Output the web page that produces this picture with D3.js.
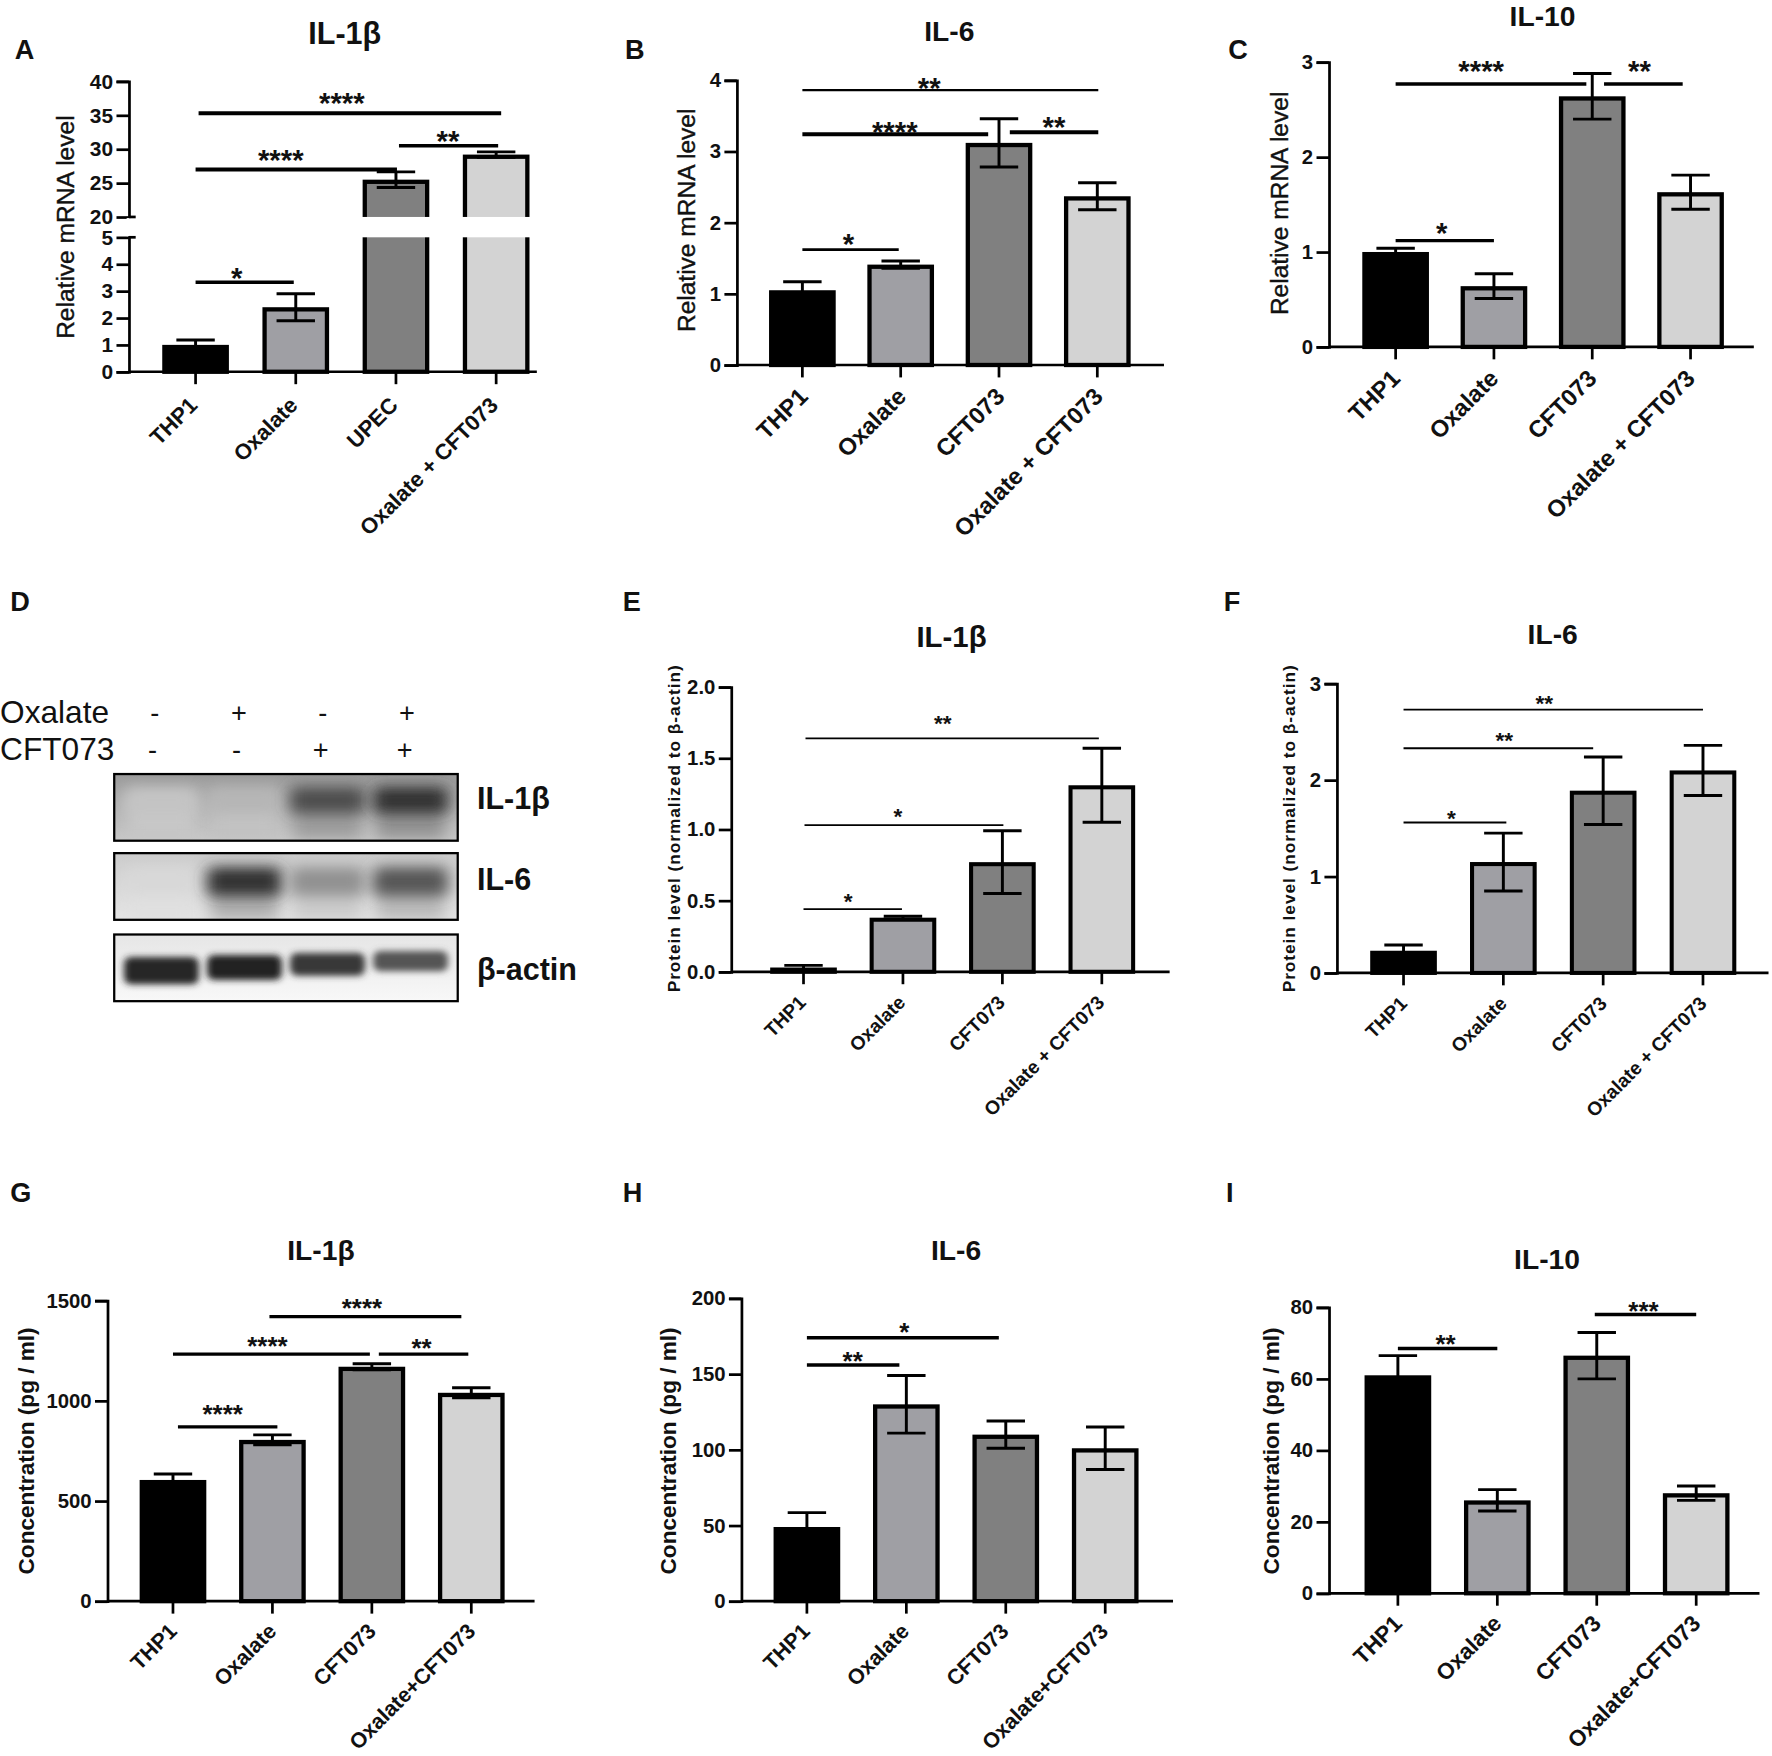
<!DOCTYPE html>
<html>
<head>
<meta charset="utf-8">
<script src="https://cdnjs.cloudflare.com/ajax/libs/d3/7.8.5/d3.min.js"></script>
<style>
body { margin: 0; background: #fff; }
svg { display: block; }
text { font-family: "Liberation Sans", Arial, sans-serif; fill: #111; }
</style>
</head>
<body>
<div id="chart"></div>
<script>
// groups
var catsUpec = ["THP1", "Oxalate", "UPEC", "Oxalate + CFT073"];
var catsPlus = ["THP1", "Oxalate", "CFT073", "Oxalate + CFT073"];
var catsTight = ["THP1", "Oxalate", "CFT073", "Oxalate+CFT073"];
var barColors = ["#000000", "#9f9fa4", "#808080", "#d3d3d3"];

// means and error bars
var aVal = [1.0, 2.4, 25.5, 29.2], aErr = [0.18, 0.5, 1.15, 0.4];
var bVal = [1.05, 1.41, 3.12, 2.37], bErr = [0.12, 0.05, 0.34, 0.19];
var cVal = [1.0, 0.64, 2.64, 1.63], cErr = [0.04, 0.13, 0.24, 0.18];
var eVal = [0.03, 0.38, 0.77, 1.31], eErr = [0.015, 0.01, 0.22, 0.26];
var fVal = [0.23, 1.15, 1.89, 2.1], fErr = [0.06, 0.3, 0.35, 0.26];
var gVal = [605, 805, 1170, 1040], gErr = [30, 25, 15, 25];
var hVal = [49, 130, 110, 101], hErr = [9.5, 19, 9, 14];
var iVal = [61, 26, 66.5, 28], iErr = [5.5, 3, 6.5, 2];

// tick labels
var aTicks = [0, 1, 2, 3, 4, 5, 20, 25, 30, 35, 40];
var bTicks = [0, 1, 2, 3, 4];
var cTicks = [0, 1, 2, 3];
var eTicks = [0, 0.5, 1, 1.5, 2];
var fTicks = [0, 1, 2, 3];
var gTicks = [0, 500, 1000, 1500];
var hTicks = [0, 50, 100, 150, 200];
var iTicks = [0, 20, 40, 60, 80];

// significance: label, from group, to group, level in axis units, group the label sits over
var aSig = [["****", 0.03, 3.05, 35.3, 1.46], ["****", 0, 2.01, 27, 0.85], ["**", 2.03, 3.02, 30.5, 2.52], ["*", 0, 0.98, 3.33, 0.41]];
var bSig = [["**", 0, 3.01, 3.86, 1.29], ["****", 0, 1.89, 3.24, 0.94], ["**", 2.11, 3.01, 3.27, 2.56], ["*", 0, 0.98, 1.62, 0.47]];
var cSig = [["****", 0, 1.94, 2.77, 0.87], ["**", 2.12, 2.92, 2.77, 2.48], ["*", 0, 1.0, 1.12, 0.47]];
var eSig = [["**", 0.02, 2.97, 1.64, 1.4], ["*", 0.01, 2.01, 1.03, 0.95], ["*", 0, 0.99, 0.44, 0.45]];
var fSig = [["**", 0, 3.0, 2.73, 1.41], ["**", 0, 1.9, 2.33, 1.01], ["*", 0, 1.03, 1.56, 0.48]];
var gSig = [["****", 0.97, 2.9, 1420, 1.9], ["****", 0, 1.98, 1233, 0.95], ["**", 2.07, 2.97, 1233, 2.5], ["****", 0.05, 1.05, 870, 0.5]];
var hSig = [["*", 0, 1.93, 174, 0.98], ["**", 0, 0.93, 156, 0.46]];
var iSig = [["**", 0, 1, 68.5, 0.48], ["***", 1.98, 3, 78, 2.47]];

// western blot
var blotNames = ["IL-1β", "IL-6", "β-actin"];
var laneNames = ["1", "2", "3", "4"];
var il1bBands = [0.02, 0.1, 0.68, 0.84];
var il6Bands = [0.06, 0.86, 0.4, 0.68];
var actinBands = [0.92, 0.95, 0.85, 0.72];
var oxalateSigns = ["-", "+", "-", "+"];
var cftSigns = ["-", "-", "+", "+"];

var svg = d3.select("#chart").append("svg")
    .attr("width", 1772)
    .attr("height", 1756)
    .attr("viewBox", "0 0 1568 1554");

var panels = [
    {letter: "A", lx: 13, ly: 52, title: "IL-1β", tx: 305, ty: 39, tf: 27, cats: catsUpec, val: aVal, err: aErr, ticks: aTicks, sig: aSig,
        yDomain: [0, 5, 20, 40], yRange: [329, 210, 192, 72], axisX: 114, endX: 475, c0: 173, c3: 439, gap: [5, 20],
        label: "Relative mRNA level", labelX: 58, labelY: 201, labelSize: 21.7, labelWeight: "normal", labelStroke: 0.35, tick: 18.5, cat: 19.5, catDx: -2, catDy: 26,
        sw: 3.8, sigW: [3.5, 3.5, 3, 3], star: 26, starUp: [14.5, 14.5, 10, 9]},
    {letter: "B", lx: 553, ly: 52, title: "IL-6", tx: 840, ty: 36, tf: 25, cats: catsPlus, val: bVal, err: bErr, ticks: bTicks, sig: bSig,
        yDomain: [0, 4], yRange: [323, 71], axisX: 652, endX: 1030, c0: 710, c3: 971,
        label: "Relative mRNA level", labelX: 607, labelY: 195, labelSize: 21.7, labelWeight: "normal", labelStroke: 0.35, tick: 18, cat: 21, catDx: 1, catDy: 24,
        sw: 3.8, sigW: [2, 3.5, 3.5, 2.5], star: 26, starUp: [7.5, 8, 10, 10.5]},
    {letter: "C", lx: 1087, ly: 52, title: "IL-10", tx: 1365, ty: 23, tf: 25, cats: catsPlus, val: cVal, err: cErr, ticks: cTicks, sig: cSig,
        yDomain: [0, 3], yRange: [307, 55], axisX: 1176, endX: 1552, c0: 1235, c3: 1496,
        label: "Relative mRNA level", labelX: 1132, labelY: 180, labelSize: 21.7, labelWeight: "normal", labelStroke: 0.35, tick: 18, cat: 21, catDx: 0, catDy: 24,
        sw: 3.8, sigW: [3, 3, 3], star: 26, starUp: [17, 17, 12]},
    {letter: "E", lx: 551, ly: 541, title: "IL-1β", tx: 842, ty: 573, tf: 26, cats: catsPlus, val: eVal, err: eErr, ticks: eTicks, sig: eSig, fmt: d3.format(".1f"),
        yDomain: [0, 2], yRange: [860, 608], axisX: 647, endX: 1035, c0: 711, c3: 975,
        label: "Protein level (normalized to β-actin)", labelX: 596, labelY: 733, labelSize: 15.3, labelSpacing: 0.85, labelWeight: "bold", tick: 18, cat: 17, catDx: -1, catDy: 24,
        sw: 3.6, sigW: [1.6, 1.6, 1.6], star: 20, starUp: [17.5, 12.5, 11]},
    {letter: "F", lx: 1083, ly: 541, title: "IL-6", tx: 1374, ty: 570, tf: 25, cats: catsPlus, val: fVal, err: fErr, ticks: fTicks, sig: fSig,
        yDomain: [0, 3], yRange: [861, 605], axisX: 1183, endX: 1565, c0: 1242, c3: 1507,
        label: "Protein level (normalized to β-actin)", labelX: 1141, labelY: 733, labelSize: 15.3, labelSpacing: 0.85, labelWeight: "bold", tick: 18, cat: 17, catDx: 0, catDy: 24,
        sw: 3.6, sigW: [1.6, 1.6, 1.6], star: 20, starUp: [10, 11, 8]},
    {letter: "G", lx: 9, ly: 1064, title: "IL-1β", tx: 284, ty: 1115, tf: 25, cats: catsTight, val: gVal, err: gErr, ticks: gTicks, sig: gSig,
        yDomain: [0, 1500], yRange: [1417, 1151], axisX: 95, endX: 473, c0: 153, c3: 417,
        label: "Concentration (pg / ml)", labelX: 23, labelY: 1284, labelSize: 20, labelWeight: "bold", tick: 18, cat: 19, catDx: 0, catDy: 23,
        sw: 3.8, sigW: [3, 3, 3, 3], star: 23, starUp: [13, 12, 10, 16]},
    {letter: "H", lx: 551, ly: 1064, title: "IL-6", tx: 846, ty: 1115, tf: 25, cats: catsTight, val: hVal, err: hErr, ticks: hTicks, sig: hSig,
        yDomain: [0, 200], yRange: [1417, 1149], axisX: 656, endX: 1038, c0: 714, c3: 978,
        label: "Concentration (pg / ml)", labelX: 591, labelY: 1284, labelSize: 20, labelWeight: "bold", tick: 18, cat: 19, catDx: -1, catDy: 23,
        sw: 3.8, sigW: [3, 3], star: 23, starUp: [10, 8]},
    {letter: "I", lx: 1085, ly: 1064, title: "IL-10", tx: 1369, ty: 1123, tf: 25, cats: catsTight, val: iVal, err: iErr, ticks: iTicks, sig: iSig,
        yDomain: [0, 80], yRange: [1410, 1157], axisX: 1176, endX: 1557, c0: 1237, c3: 1501,
        label: "Concentration (pg / ml)", labelX: 1125, labelY: 1284, labelSize: 20, labelWeight: "bold", tick: 18, cat: 20, catDx: 0, catDy: 23,
        sw: 3.8, sigW: [3, 3], star: 23, starUp: [9, 8]}
];

var fontStack = '"Liberation Sans", Arial, sans-serif';

function drawPanel(p) {
    var g = svg.append("g").attr("class", "panel-" + p.letter);
    var step = (p.c3 - p.c0) / 3;
    var barW = 59;
    var x = d3.scaleBand()
        .domain(p.cats)
        .range([p.c0 - step / 2, p.c3 + step / 2])
        .paddingInner(1 - barW / step)
        .paddingOuter((1 - barW / step) / 2);
    var groupX = d3.scaleLinear().domain([0, 3]).range([p.c0, p.c3]);
    var y = d3.scaleLinear().domain(p.yDomain).range(p.yRange);
    var base = y(0);

    g.append("text").attr("x", p.lx).attr("y", p.ly)
        .style("font-size", "24px").style("font-weight", "bold").text(p.letter);
    g.append("text").attr("x", p.tx).attr("y", p.ty).attr("text-anchor", "middle")
        .style("font-size", p.tf + "px").style("font-weight", "bold").text(p.title);

    // the stroke sits inside the bar, so the outer edge is on the value
    g.selectAll(".bar").data(p.val).enter().append("rect")
        .attr("class", "bar")
        .attr("x", function (d, i) { return x(p.cats[i]) + p.sw / 2; })
        .attr("width", x.bandwidth() - p.sw)
        .attr("y", function (d) { return y(d) + p.sw / 2; })
        .attr("height", function (d) { return Math.max(base - y(d) - p.sw / 2, 0); })
        .attr("fill", function (d, i) { return barColors[i]; })
        .attr("stroke", "#000").attr("stroke-width", p.sw);

    var err = g.selectAll(".err").data(p.val).enter().append("g").attr("class", "err")
        .attr("transform", function (d, i) { return "translate(" + (x(p.cats[i]) + x.bandwidth() / 2) + ",0)"; })
        .attr("stroke", "#000").attr("stroke-width", 2.6);
    err.append("line").attr("y1", function (d, i) { return y(d - p.err[i]); }).attr("y2", function (d, i) { return y(d + p.err[i]); });
    err.append("line").attr("x1", -17).attr("x2", 17).attr("y1", function (d, i) { return y(d + p.err[i]); }).attr("y2", function (d, i) { return y(d + p.err[i]); });
    err.append("line").attr("x1", -17).attr("x2", 17).attr("y1", function (d, i) { return y(d - p.err[i]); }).attr("y2", function (d, i) { return y(d - p.err[i]); });

    if (p.gap) {
        g.append("rect").attr("x", p.axisX - 2).attr("width", p.endX - p.axisX + 2)
            .attr("y", y(p.gap[1])).attr("height", y(p.gap[0]) - y(p.gap[1]))
            .attr("fill", "#fff");
    }

    var fmt = p.fmt || d3.format("d");
    var yAxis = g.append("g").attr("transform", "translate(" + p.axisX + ",0)")
        .call(d3.axisLeft(y).tickValues(p.ticks).tickSizeOuter(0).tickSize(11).tickPadding(3).tickFormat(fmt));
    var xAxis = g.append("g").attr("transform", "translate(0," + base + ")")
        .call(d3.axisBottom(x).tickSizeOuter(0).tickSize(11));
    xAxis.select(".domain").remove();
    g.append("line").attr("x1", p.axisX).attr("x2", p.endX).attr("y1", base).attr("y2", base)
        .attr("stroke", "#000").attr("stroke-width", 2.4);

    if (p.gap) {
        // the axis line has a gap too, with a short stub at each side
        g.append("rect").attr("x", p.axisX - 2).attr("width", 4)
            .attr("y", y(p.gap[1]) + 1).attr("height", y(p.gap[0]) - y(p.gap[1]) - 2).attr("fill", "#fff");
        p.gap.forEach(function (v) {
            g.append("line").attr("x1", p.axisX).attr("x2", p.axisX + 6).attr("y1", y(v)).attr("y2", y(v))
                .attr("stroke", "#000").attr("stroke-width", 2.4);
        });
    }

    yAxis.selectAll("path,line").attr("stroke", "#000").attr("stroke-width", 2.4);
    xAxis.selectAll("line").attr("stroke", "#000").attr("stroke-width", 2.4);
    yAxis.selectAll("text").style("font-size", p.tick + "px").style("font-weight", "bold")
        .style("font-family", fontStack).attr("fill", "#111");
    xAxis.selectAll("text")
        .style("font-size", p.cat + "px").style("font-weight", "bold")
        .style("font-family", fontStack).attr("fill", "#222")
        .attr("text-anchor", "end")
        .attr("x", 0).attr("y", 0).attr("dy", "0.35em")
        .attr("transform", "translate(" + p.catDx + "," + p.catDy + ") rotate(-45)");

    var yl = g.append("text")
        .attr("transform", "translate(" + p.labelX + "," + p.labelY + ") rotate(-90)")
        .attr("text-anchor", "middle").attr("dy", "0.35em")
        .style("font-size", p.labelSize + "px").style("font-weight", p.labelWeight)
        .text(p.label);
    if (p.labelSpacing) yl.style("letter-spacing", p.labelSpacing + "px");
    if (p.labelStroke) yl.style("stroke", "#111").style("stroke-width", p.labelStroke);

    p.sig.forEach(function (s, i) {
        g.append("line")
            .attr("x1", groupX(s[1])).attr("x2", groupX(s[2]))
            .attr("y1", y(s[3])).attr("y2", y(s[3]))
            .attr("stroke", "#000").attr("stroke-width", p.sigW[i]);
        g.append("text")
            .attr("x", groupX(s[4]))
            .attr("y", y(s[3]) - p.starUp[i] + p.star * 0.56)
            .attr("text-anchor", "middle")
            .style("font-size", p.star + "px").style("font-weight", "bold").text(s[0]);
    });
}

panels.forEach(drawPanel);

// panel D
function drawBlot() {
    var g = svg.append("g").attr("class", "panel-D");
    g.append("text").attr("x", 9).attr("y", 541).style("font-size", "24px").style("font-weight", "bold").text("D");

    var defs = svg.append("defs");
    defs.append("filter").attr("id", "softBlur").attr("x", "-40%").attr("y", "-80%").attr("width", "180%").attr("height", "260%")
        .append("feGaussianBlur").attr("stdDeviation", "7 6");
    defs.append("filter").attr("id", "tightBlur").attr("x", "-30%").attr("y", "-60%").attr("width", "160%").attr("height", "220%")
        .append("feGaussianBlur").attr("stdDeviation", "3.5 3");

    var blotX = d3.scaleBand().domain(laneNames).range([106, 400]).paddingInner(0.1).paddingOuter(0.05);
    var signX = d3.scalePoint().domain(laneNames).range([137, 360]);
    var rows = [
        {name: blotNames[0], bands: il1bBands, top: 685, bgTop: "#999999", bgBottom: "#c8c8c8", h: 24, dy: 23, blur: "softBlur", textY: 716, tail: 0.35},
        {name: blotNames[1], bands: il6Bands, top: 755, bgTop: "#cbcbcb", bgBottom: "#e4e4e4", h: 26, dy: 25, blur: "softBlur", textY: 788, tail: 0.3},
        {name: blotNames[2], bands: actinBands, top: 827, bgTop: "#e6e6e6", bgBottom: "#f8f8f8", h: 24, dy: 32, blur: "tightBlur", textY: 867, tail: 0}
    ];

    rows.forEach(function (r, k) {
        var clip = "blot" + k, grad = "blotBg" + k;
        defs.append("clipPath").attr("id", clip).append("rect").attr("x", 101).attr("y", r.top).attr("width", 304).attr("height", 59);
        var lg = defs.append("linearGradient").attr("id", grad).attr("x1", 0).attr("y1", 0).attr("x2", 0).attr("y2", "100%");
        lg.append("stop").attr("offset", 0).style("stop-color", r.bgTop);
        lg.append("stop").attr("offset", "100%").style("stop-color", r.bgBottom);

        var b = g.append("g").attr("clip-path", "url(#" + clip + ")");
        b.append("rect").attr("x", 101).attr("y", r.top).attr("width", 304).attr("height", 59).attr("fill", "url(#" + grad + ")");
        var shade = d3.scaleLinear().domain([0, 1]).range([r.bgBottom, "#151515"]);
        if (r.tail) {
            // smear running down under each band
            b.selectAll("rect.tail").data(r.bands).enter().append("rect")
                .attr("class", "tail")
                .attr("x", function (d, i) { return blotX(laneNames[i]) + 3; })
                .attr("width", blotX.bandwidth() - 6)
                .attr("y", r.top + r.dy)
                .attr("height", 34)
                .attr("fill", function (d) { return shade(d * r.tail); })
                .attr("filter", "url(#softBlur)");
        }
        b.selectAll("rect.band").data(r.bands).enter().append("rect")
            .attr("class", "band")
            .attr("x", function (d, i) { return blotX(laneNames[i]); })
            .attr("width", blotX.bandwidth())
            .attr("y", function (d, i) { return r.top + r.dy - r.h / 2 - (r.tail ? 0 : i * 1.8); })
            .attr("height", function (d, i) { return r.h - (r.tail ? 0 : i * 2); })
            .attr("rx", 6)
            .attr("fill", function (d) { return shade(d); })
            .attr("filter", "url(#" + r.blur + ")");
        g.append("rect").attr("x", 101).attr("y", r.top).attr("width", 304).attr("height", 59)
            .attr("fill", "none").attr("stroke", "#000").attr("stroke-width", 2);
        g.append("text").attr("x", 422).attr("y", r.textY)
            .style("font-size", "27px").style("font-weight", "bold").text(r.name);
    });

    g.append("text").attr("x", 0).attr("y", 640).style("font-size", "28px").text("Oxalate");
    g.append("text").attr("x", 0).attr("y", 673).style("font-size", "28px").text("CFT073");
    g.selectAll(".ox").data(oxalateSigns).enter().append("text")
        .attr("x", function (d, i) { return signX(laneNames[i]); }).attr("y", 639)
        .attr("text-anchor", "middle").style("font-size", "24px").text(function (d) { return d; });
    g.selectAll(".cf").data(cftSigns).enter().append("text")
        .attr("x", function (d, i) { return signX(laneNames[i]) - 2; }).attr("y", 672)
        .attr("text-anchor", "middle").style("font-size", "24px").text(function (d) { return d; });
}

drawBlot();
</script>
</body>
</html>
